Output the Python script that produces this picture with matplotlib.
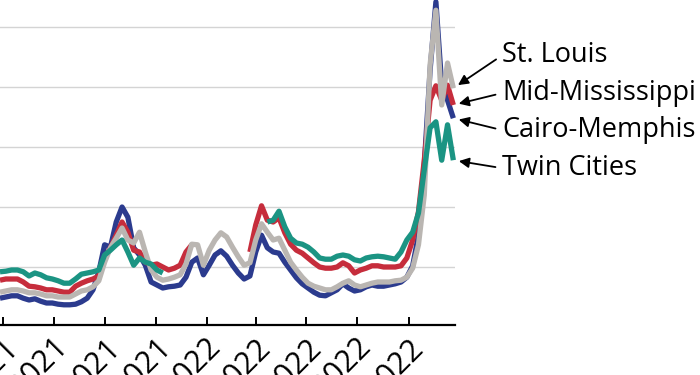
import numpy as np
import pandas as pd
import matplotlib
matplotlib.use("Agg")
import matplotlib.pyplot as plt
import matplotlib.transforms as mtransforms

plt.rcParams['font.family'] = ['Open Sans', 'DejaVu Sans']

# Weekly barge rates (percent of tariff)
dates = pd.date_range('2021-04-27', periods=79, freq='7D')
nan = np.nan

cairo_memphis = [240, 250, 260, 260, 240, 225, 235, 215, 200, 200,
                 190, 185, 185, 190, 210, 240, 310, 460, 685, 665,
                 875, 1000, 915, 660, 600, 515, 375, 350, 325, 335,
                 340, 350, 415, 540, 575, 435, 515, 600, 635, 590,
                 515, 450, 400, 425, 625, 765, 660, 625, 615, 540,
                 475, 410, 360, 325, 290, 265, 260, 285, 310, 360,
                 325, 300, 310, 335, 350, 340, 340, 350, 360, 375,
                 415, 510, 765, 1350, 2140, 2710, 2015, 1890, 1740]

st_louis = [290, 300, 310, 310, 300, 285, 285, 275, 260, 260,
            250, 250, 250, 275, 300, 310, 335, 385, 540, 660,
            740, 825, 725, 700, 790, 625, 475, 415, 390, 400,
            415, 435, 525, 690, 685, 515, 640, 725, 785, 750,
            665, 585, 515, 535, 725, 860, 790, 725, 740, 640,
            540, 475, 415, 365, 340, 325, 310, 310, 335, 365,
            385, 350, 335, 350, 365, 375, 375, 375, 385, 390,
            415, 490, 685, 1100, 2185, 2640, 1850, 2200, 1990]

mid_mississippi = [390, 400, 400, 400, 375, 340, 335, 325, 310, 310,
                   300, 290, 290, 340, 365, 385, 400, 425, 575, 660,
                   765, 875, 790, 640, 625, 540, 515, 525, 500, 475,
                   490, 515, 625, 685, nan, nan, nan, nan, nan, nan,
                   nan, nan, nan, 625, 850, 1010, 890, 875, 910, 785,
                   690, 640, 615, 575, 535, 500, 490, 490, 500, 535,
                   510, 450, 475, 490, 510, 510, 500, 500, 500, 510,
                   575, 725, 960, 1390, 1890, 2010, 1890, 2015, 1850]

twin_cities = [460, 465, 475, 475, 460, 425, 450, 435, 410, 400,
               385, 365, 365, 400, 440, 450, 460, 475, 600, 640,
               685, 725, 625, 515, 575, 540, 525, 475, 450, nan,
               nan, nan, nan, nan, nan, nan, nan, nan, nan, nan,
               nan, nan, nan, nan, nan, nan, 875, 890, 965, 835,
               740, 700, 690, 665, 625, 575, 565, 565, 590, 600,
               590, 560, 550, 575, 585, 590, 585, 575, 565, 625,
               725, 790, 950, 1310, 1660, 1710, 1390, 1685, 1390]

tick_dates = pd.date_range('2021-05-01', '2022-09-01', freq='2MS')
tick_labels = ['May 2021', 'Jul 2021', 'Sep 2021', 'Nov 2021', 'Jan 2022',
               'Mar 2022', 'May 2022', 'Jul 2022', 'Sep 2022']

series_names = ['Cairo-Memphis', 'Mid-Mississippi', 'St. Louis', 'Twin Cities']
series_values = [cairo_memphis, mid_mississippi, st_louis, twin_cities]
colors = ['#2b3b8e', '#c62d3c', '#bab6b2', '#1b9483']
label_offsets = {'St. Louis': (49, 33), 'Mid-Mississippi': (49, 12),
                 'Cairo-Memphis': (49, -12), 'Twin Cities': (49, -8)}

fig = plt.figure(figsize=(7.0, 3.75), dpi=100)
ax = fig.add_axes([0.0, 50 / 375, 455 / 700, 335 / 375])

for name, vals, col in zip(series_names, series_values, colors):
    ax.plot(dates, vals, color=col, lw=3.8, solid_joinstyle='round',
            solid_capstyle='butt', clip_on=False, zorder=3)

ybot = 2 * 25 / 3
ax.set_xlim(pd.Timestamp('2021-04-27'), pd.Timestamp('2022-10-27'))
ax.set_ylim(ybot, ybot + 335 * 25 / 3)
ax.set_yticks([500, 1000, 1500, 2000, 2500])
ax.yaxis.grid(True, color='#d4d4d4', lw=1.0)
ax.set_axisbelow(True)
ax.tick_params(axis='y', left=False, labelleft=False)
for s in ['left', 'right', 'top']:
    ax.spines[s].set_visible(False)
ax.spines['bottom'].set_linewidth(1.6)
ax.spines['bottom'].set_color('black')

ax.set_xticks(tick_dates)
ax.set_xticklabels([])
ax.tick_params(axis='x', direction='in', length=6, width=1.4, color='black')

base = mtransforms.blended_transform_factory(ax.transData, ax.transAxes)
trans = mtransforms.offset_copy(base, fig=fig, x=11, y=-20, units='dots')
for d, lab in zip(tick_dates, tick_labels):
    ax.text(d, 0, lab, transform=trans, rotation=45, rotation_mode='anchor',
            ha='right', va='center', fontsize=22, color='black', clip_on=False)

for name, vals, col in zip(series_names, series_values, colors):
    dx, dy = label_offsets[name]
    ax.annotate(name, xy=(dates[-1], vals[-1]), xycoords='data',
                xytext=(dx, dy), textcoords='offset pixels',
                ha='left', va='center', fontsize=19.5, color='black',
                arrowprops=dict(arrowstyle='-|>', color='black', lw=1.3,
                                mutation_scale=15, shrinkA=3, shrinkB=4,
                                relpos=(0, 0.5)),
                annotation_clip=False)

fig.savefig('out.png', dpi=100)
